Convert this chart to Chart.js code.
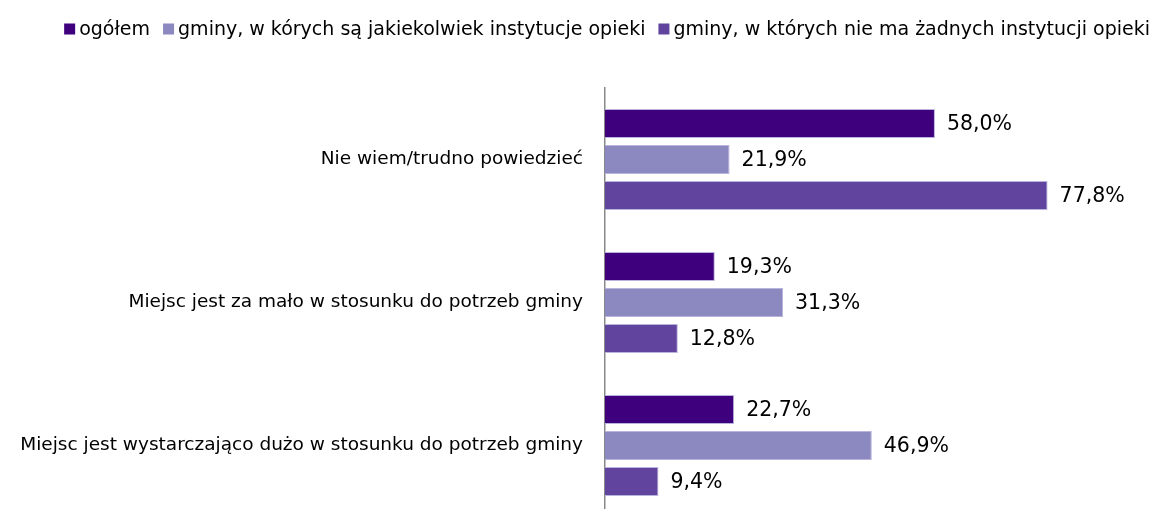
<!DOCTYPE html>
<html>
<head>
<meta charset="utf-8">
<script src="https://cdn.jsdelivr.net/npm/chart.js@4"></script>
<style>
  html, body { margin: 0; padding: 0; background: #fff; overflow: hidden; }
</style>
</head>
<body>
<canvas id="chart" width="1154" height="520"></canvas>
<script>
// dane z wykresu
const categories = [
  "Nie wiem/trudno powiedzieć",
  "Miejsc jest za mało w stosunku do potrzeb gminy",
  "Miejsc jest wystarczająco dużo w stosunku do potrzeb gminy"
];
const seriesNames = [
  "ogółem",
  "gminy, w kórych są jakiekolwiek instytucje opieki",
  "gminy, w których nie ma żadnych instytucji opieki"
];
const ogolem = [58.0, 19.3, 22.7];
const sInstytucje = [21.9, 31.3, 46.9];
const bezInstytucji = [77.8, 12.8, 9.4];

const colors = ["#3f007d", "#8c89c1", "#61449d"];
const FONT = "DejaVu Sans";
const LABEL_SIZE = 18.5;

// etykiety wartości na końcu słupków
const valueLabels = {
  id: "valueLabels",
  afterDatasetsDraw(chart) {
    const ctx = chart.ctx;
    ctx.save();
    ctx.font = "20.5px '" + FONT + "'";
    ctx.fillStyle = "#000";
    ctx.textBaseline = "middle";
    ctx.textAlign = "left";
    chart.data.datasets.forEach((ds, i) => {
      const meta = chart.getDatasetMeta(i);
      meta.data.forEach((bar, j) => {
        const txt = ds.data[j].toFixed(1).replace(".", ",") + "%";
        ctx.fillText(txt, bar.x + 12, bar.y + 1);
      });
    });
    ctx.restore();
  }
};

// legenda rysowana ręcznie (wyrównana do prawej)
const topLegend = {
  id: "topLegend",
  afterDraw(chart) {
    const ctx = chart.ctx;
    ctx.save();
    ctx.font = "19px '" + FONT + "'";
    ctx.textBaseline = "middle";
    const box = 11, gapText = 4, gapItem = 13, y = 29;
    let total = 0;
    seriesNames.forEach((n, i) => {
      total += box + gapText + ctx.measureText(n).width;
      if (i < seriesNames.length - 1) total += gapItem;
    });
    let x = 1150 - total;
    seriesNames.forEach((n, i) => {
      ctx.fillStyle = colors[i];
      ctx.fillRect(x, y - box / 2, box, box);
      x += box + gapText;
      ctx.fillStyle = "#000";
      ctx.fillText(n, x, y + 1);
      x += ctx.measureText(n).width + gapItem;
    });
    ctx.restore();
  }
};

const data = [ogolem, sInstytucje, bezInstytucji];

new Chart(document.getElementById("chart"), {
  type: "bar",
  data: {
    labels: categories,
    datasets: seriesNames.map((name, i) => ({
      label: name,
      data: data[i],
      backgroundColor: colors[i],
      borderColor: "#b8b4dc",
      borderWidth: 1,
      categoryPercentage: 0.755,
      barPercentage: 0.81
    }))
  },
  options: {
    indexAxis: "y",
    responsive: false,
    animation: false,
    layout: { padding: { left: 0, right: 37, top: 88, bottom: 3 } },
    plugins: {
      legend: { display: false },
      tooltip: { enabled: false }
    },
    scales: {
      x: { display: false, min: 0, max: 90 },
      y: {
        grid: { display: false, drawTicks: false },
        border: { display: true, color: "#888", width: 1.5 },
        ticks: {
          color: "#000",
          padding: 22,
          font: { family: FONT, size: LABEL_SIZE }
        },
        afterFit(scale) {
          scale.width = 605;
          scale.paddingTop = 0;
          scale.paddingBottom = 0;
        }
      }
    }
  },
  plugins: [valueLabels, topLegend]
});
</script>
</body>
</html>
